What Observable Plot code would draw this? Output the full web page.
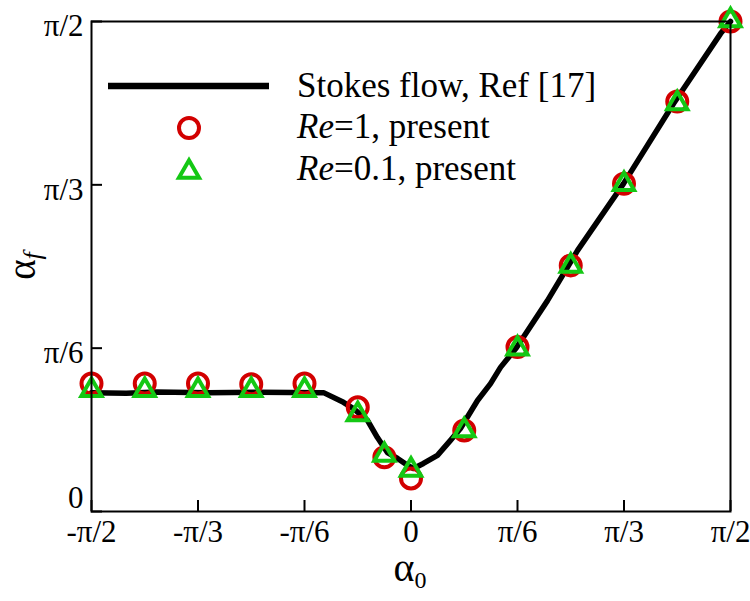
<!DOCTYPE html>
<html>
<head>
<meta charset="utf-8">
<script src="https://cdn.jsdelivr.net/npm/d3@7"></script>
<script src="https://cdn.jsdelivr.net/npm/@observablehq/plot@0.6"></script>
<style>
  html, body { margin: 0; padding: 0; background: #fff; }
  #chart svg { display: block; }
</style>
</head>
<body>
<div id="chart"></div>
<script>
// ---- data (radians) ----
const xTickValues = [-1.5708, -1.0472, -0.5236, 0, 0.5236, 1.0472, 1.5708];
const xTickLabels = ["-π/2", "-π/3", "-π/6", "0", "π/6", "π/3", "π/2"];
const yTickValues = [0, 0.5236, 1.0472, 1.5708];
const yTickLabels = ["0", "π/6", "π/3", "π/2"];

// Stokes flow, Ref [17]
const stokesAlpha0 = [-1.5708, -1.40, -1.25, -1.00, -0.75, -0.43, -0.332, -0.283, -0.214, -0.165, -0.116, -0.066, -0.017, 0.012, 0.061, 0.130, 0.194, 0.243, 0.327, 0.391, 0.440, 0.519, 0.671, 0.819, 1.045, 1.291, 1.522, 1.5708];
const stokesAlphaF = [0.381, 0.379, 0.383, 0.381, 0.382, 0.381, 0.350, 0.330, 0.292, 0.237, 0.189, 0.170, 0.148, 0.138, 0.154, 0.180, 0.228, 0.266, 0.356, 0.410, 0.462, 0.526, 0.676, 0.837, 1.051, 1.308, 1.532, 1.5708];

// present results
const presentAlpha0 = [-1.5708, -1.3090, -1.0472, -0.7854, -0.5236, -0.2618, -0.1309, 0, 0.2618, 0.5236, 0.7854, 1.0472, 1.3090, 1.5708];
const re1AlphaF  = [0.410, 0.410, 0.410, 0.408, 0.410, 0.334, 0.174, 0.106, 0.260, 0.527, 0.789, 1.051, 1.314, 1.571];
const re01AlphaF = [0.389, 0.389, 0.389, 0.389, 0.389, 0.311, 0.181, 0.133, 0.260, 0.522, 0.787, 1.049, 1.308, 1.574];

const legendLabels = [
  {plain: "Stokes flow, Ref [17]"},
  {ital: "Re", plain: "=1, present"},
  {ital: "Re", plain: "=0.1, present"}
];

const RED = "#d20000";
const GREEN = "#14c814";

// ---- tables ----
const stokes = stokesAlpha0.map((x, i) => ({x, y: stokesAlphaF[i]}));
const present = presentAlpha0.map((x, i) => ({x, re1: re1AlphaF[i], re01: re01AlphaF[i]}));
const yTicks = yTickValues.map((v, i) => ({v, label: yTickLabels[i]}));

const W = 750, H = 601;
const mL = 91, mR = 20, mT = 21, mB = 90;
const plotW = W - mL - mR, plotH = H - mT - mB;
const serif = "'Liberation Serif', serif";

const chart = Plot.plot({
  width: W, height: H,
  marginLeft: mL, marginRight: mR, marginTop: mT, marginBottom: mB,
  x: {domain: [-1.5708, 1.5708]},
  y: {domain: [0, 1.5708]},
  style: {fontFamily: serif, fontSize: "31px", background: "#fff", color: "#000", overflow: "visible"},
  marks: [
    Plot.line(stokes, {x: "x", y: "y", stroke: "#000", strokeWidth: 5.5, strokeLinejoin: "round"}),
    Plot.dot(present, {x: "x", y: "re1", symbol: "circle", r: 10, stroke: RED, strokeWidth: 4, fill: "none"}),
    Plot.dot(present, {x: "x", y: "re01", symbol: "triangle", r: 7.5, stroke: GREEN, strokeWidth: 4, fill: "none"}),
    Plot.frame({stroke: "#000", strokeWidth: 2}),
    Plot.tickX(xTickValues, {x: d => d, insetTop: plotH - 11, stroke: "#000", strokeWidth: 2}),
    Plot.tickY(yTickValues, {y: d => d, insetRight: plotW - 11, stroke: "#000", strokeWidth: 2}),
    Plot.axisX(xTickValues, {tickSize: 0, tickPadding: 8, tickFormat: (d, i) => xTickLabels[i], label: null, fontSize: 31, fontFamily: serif}),
    Plot.axisY(yTicks.filter(d => d.v > 0).map(d => d.v), {tickSize: 0, tickPadding: 8, tickFormat: d => yTicks.find(t => t.v === d).label, label: null, fontSize: 31, fontFamily: serif, dy: 5}),
    Plot.axisY(yTicks.filter(d => d.v === 0).map(d => d.v), {tickSize: 0, tickPadding: 8, tickFormat: d => yTicks.find(t => t.v === d).label, label: null, fontSize: 31, fontFamily: serif, dy: -13})
  ]
});
document.getElementById("chart").appendChild(chart);

// ---- titles & legend (real SVG text) ----
const svg = d3.select(chart);

// x title: α0
const xt = svg.append("text")
  .attr("x", 410).attr("y", 581)
  .attr("text-anchor", "middle")
  .style("font-family", serif).attr("font-size", 40).attr("fill", "#000");
xt.append("tspan").text("α");
xt.append("tspan").attr("font-size", 24).attr("dy", 7).text("0");

// y title: αf
const yt = svg.append("text")
  .attr("transform", "translate(35,266) rotate(-90)")
  .attr("text-anchor", "middle")
  .style("font-family", serif).attr("font-size", 39).attr("fill", "#000");
yt.append("tspan").text("α");
yt.append("tspan").attr("font-size", 26).attr("font-style", "italic").attr("dy", 6).text("f");

// legend
const lg = svg.append("g").attr("text-anchor", "start");
lg.append("line").attr("x1", 108).attr("x2", 269).attr("y1", 86).attr("y2", 86)
  .attr("stroke", "#000").attr("stroke-width", 6.5);
lg.append("circle").attr("cx", 189).attr("cy", 128).attr("r", 10)
  .attr("fill", "none").attr("stroke", RED).attr("stroke-width", 4);
lg.append("path").attr("d", d3.symbol(d3.symbolTriangle, Math.PI * 7.5 * 7.5)())
  .attr("transform", "translate(189,172)")
  .attr("fill", "none").attr("stroke", GREEN).attr("stroke-width", 4);
const baselines = [97, 138, 180];
legendLabels.forEach((L, i) => {
  const t = lg.append("text").attr("x", 297).attr("y", baselines[i])
    .attr("text-anchor", "start")
    .style("font-family", serif).attr("font-size", 35).attr("fill", "#000");
  if (L.ital) t.append("tspan").attr("font-style", "italic").text(L.ital);
  t.append("tspan").text(L.plain);
});
</script>
</body>
</html>
